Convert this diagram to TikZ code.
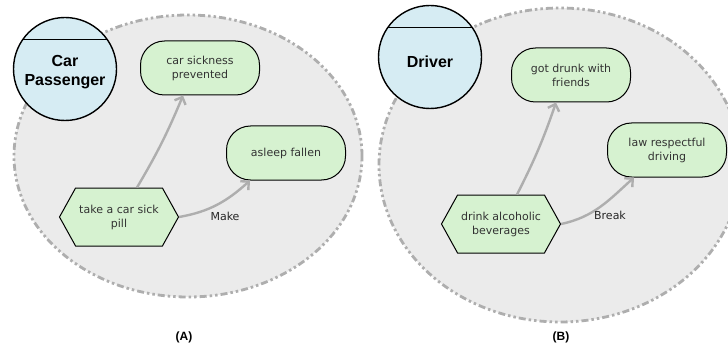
\documentclass[tikz,border=0pt]{standalone}
\usepackage{fontspec}
\setmainfont{DejaVu Sans}
\newfontfamily\headfont{Liberation Sans}
\usetikzlibrary{arrows.meta,shapes.symbols,positioning}
\definecolor{actorblue}{HTML}{D6ECF3}
\definecolor{goalgreen}{HTML}{D6F2D0}
\definecolor{boundgray}{HTML}{EBEBEB}
\definecolor{linkgray}{HTML}{AEAEAE}
\begin{document}
\begin{tikzpicture}
[x=1pt,y=1pt,
  boundary/.style={draw=linkgray,fill=boundgray,line width=2.8pt,
    dash pattern=on 7pt off 3pt on 2.5pt off 3pt on 2.5pt off 3pt},%
  actor/.style={shape=circle,draw,line width=1.4pt,fill=actorblue,
    minimum size=103pt,inner sep=0pt,
    path picture={\draw[line width=1.4pt]
      ([yshift=-22pt]path picture bounding box.north west) --
      ([yshift=-22pt]path picture bounding box.north east);}},%
  actorname/.style={align=center,inner sep=0pt,
    font=\headfont\fontsize{16}{19}\selectfont\bfseries},%
  goal/.style={shape=rectangle,rounded corners=24pt,draw,line width=1pt,
    fill=goalgreen,minimum width=119pt,minimum height=54pt,align=center,
    font=\fontsize{11}{14}\selectfont,text=black!80},%
  task/.style={shape=signal,signal to=west and east,signal pointer angle=122,
    draw,line width=1pt,fill=goalgreen,minimum width=119pt,minimum height=58pt,
    inner xsep=2pt,align=center,font=\fontsize{11}{14}\selectfont,
    text=black!80},%
  linkdecorate/.style={draw=linkgray,line width=2.4pt,
    -{Straight Barb[length=6pt,width=12pt,line width=2.4pt]}},%
  linklabel/.style={font=\fontsize{11}{13}\selectfont,text=black!85},%
  caption/.style={font=\headfont\fontsize{12}{14}\selectfont\bfseries}]
\useasboundingbox (0,0) rectangle (728,-350);
%% boundaries
\path[boundary] (188,-156) ellipse [x radius=174,y radius=141];
\path[boundary] (560,-165) ellipse [x radius=181,y radius=157];
%% panel (A)
\node (passenger) at (65,-69) [actor] {};
\node (passengername) at (65,-72) [actorname] {Car\\Passenger};
\node (prevented) at (200,-68) [goal] {car sickness\\prevented};
\node (asleep) at (286,-153) [goal] {asleep fallen};
\node (pill) at (119,-217) [task] {take a car sick\\pill};
%% panel (B)
\node (driver) at (430,-57) [actor] {};
\node (drivername) at (430,-62) [actorname] {Driver};
\node (drunk) at (571,-75) [goal] {got drunk with\\friends};
\node (lawful) at (667,-150) [goal] {law respectful\\driving};
\node (alcohol) at (501,-224) [task] {drink alcoholic\\beverages};
%% links
\path
  (pill.north -| 137,0) edge[linkdecorate,bend right=4] (prevented.south -| 183,0)
  (pill.east) edge[linkdecorate,out=10,in=222] (asleep.south -| 250,0)
  (alcohol.north -| 517,0) edge[linkdecorate,bend right=4] (drunk.south -| 556,0)
  (alcohol.east) edge[linkdecorate,out=12,in=222] (lawful.south -| 634,0);
\node[linklabel] (make) at (225,-216) {Make};
\node[linklabel] (break) at (610,-215) {Break};
%% captions
\foreach \panel/\x in {A/184, B/561}
  \node[caption] at (\x,-337) {(\panel)};
\end{tikzpicture}
\end{document}
